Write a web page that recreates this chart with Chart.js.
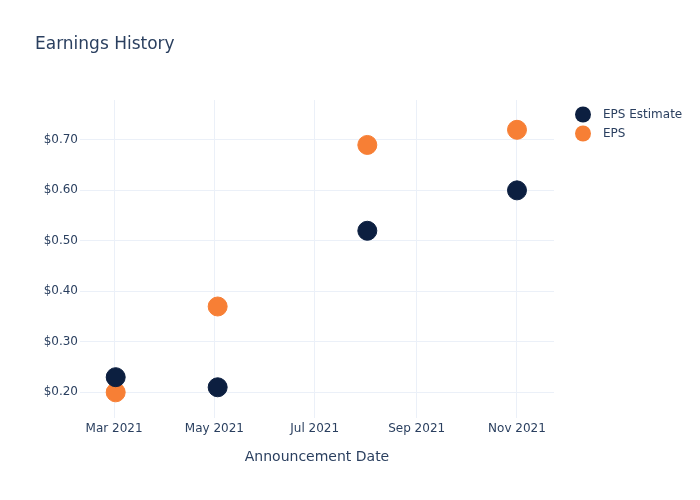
<!DOCTYPE html>
<html>
<head>
<meta charset="utf-8">
<script src="https://cdn.jsdelivr.net/npm/chart.js@4.4.0/dist/chart.umd.min.js"></script>
<style>
  html, body { margin: 0; padding: 0; background: #fff; }
  #wrap { width: 700px; height: 500px; }
</style>
</head>
<body>
<div id="wrap"><canvas id="eps"></canvas></div>
<script>
// announcement dates and values
var dates = ["2021-03-02", "2021-05-03", "2021-08-02", "2021-11-01"];
var estimate = [0.23, 0.21, 0.52, 0.60];
var actual = [0.20, 0.37, 0.69, 0.72];
var xTickDates = ["2021-03-01", "2021-05-01", "2021-07-01", "2021-09-01", "2021-11-01"];
var yTicks = [0.2, 0.3, 0.4, 0.5, 0.6, 0.7];

var months = ["Jan","Feb","Mar","Apr","May","Jun","Jul","Aug","Sep","Oct","Nov","Dec"];
var DAY = 86400000;
function toDay(s) { return Date.parse(s + "T00:00:00Z") / DAY; }
function dayLabel(d) {
  var dt = new Date(d * DAY);
  return months[dt.getUTCMonth()] + " " + dt.getUTCFullYear();
}
function pts(vals) {
  return dates.map(function (d, i) { return { x: toDay(d), y: vals[i] }; });
}

var FONT = "'DejaVu Sans', sans-serif";
var TEXT = "#2a3f5f";
var GRID = "#ebf0f8";

// title + legend drawn on the canvas (plotly-like placement)
var decor = {
  id: "decor",
  afterDraw: function (chart) {
    var c = chart.ctx;
    c.save();
    c.fillStyle = TEXT;
    c.font = "17px " + FONT;
    c.textBaseline = "middle";
    c.fillText("Earnings History", 35, 45);
    c.font = "12px " + FONT;
    chart.data.datasets.forEach(function (ds, i) {
      var y = 114.5 + i * 19;
      c.beginPath();
      c.arc(583, y, 8, 0, Math.PI * 2);
      c.fillStyle = ds.backgroundColor;
      c.fill();
      c.fillStyle = TEXT;
      c.fillText(ds.label, 603, y);
    });
    c.restore();
  }
};

var startDay = toDay("2021-03-01");

new Chart(document.getElementById("eps"), {
  type: "scatter",
  data: {
    datasets: [
      {
        label: "EPS Estimate",
        data: pts(estimate),
        backgroundColor: "#0c1f40",
        borderColor: "#0c1f40",
        pointRadius: 9.5,
        pointHoverRadius: 9.5
      },
      {
        label: "EPS",
        data: pts(actual),
        backgroundColor: "#f77f35",
        borderColor: "#f77f35",
        pointRadius: 9.5,
        pointHoverRadius: 9.5
      }
    ]
  },
  options: {
    responsive: true,
    maintainAspectRatio: false,
    animation: false,
    layout: { padding: { top: 100, right: 146, left: 0, bottom: 34 } },
    plugins: {
      legend: { display: false },
      tooltip: { enabled: false }
    },
    scales: {
      x: {
        type: "linear",
        min: startDay - 20.7,
        max: startDay + 267.5,
        afterBuildTicks: function (axis) {
          axis.ticks = xTickDates.map(function (d) { return { value: toDay(d) }; });
        },
        ticks: {
          color: TEXT,
          font: { family: FONT, size: 12 },
          padding: 4,
          maxRotation: 0,
          callback: function (v) { return dayLabel(v); }
        },
        grid: { color: GRID, tickLength: 8, tickColor: GRID },
        border: { display: false },
        title: {
          display: true,
          text: "Announcement Date",
          color: TEXT,
          font: { family: FONT, size: 14 },
          padding: { top: 8, bottom: 0 }
        },
        afterFit: function (axis) { axis.height = 56; }
      },
      y: {
        min: 0.165,
        max: 0.779,
        afterBuildTicks: function (axis) {
          axis.ticks = yTicks.map(function (v) { return { value: v }; });
        },
        ticks: {
          color: TEXT,
          font: { family: FONT, size: 12 },
          padding: 2,
          callback: function (v) { return "$" + v.toFixed(2); }
        },
        grid: { color: GRID, drawTicks: false },
        border: { display: false },
        afterFit: function (axis) { axis.width = 80; }
      }
    }
  },
  plugins: [decor]
});
</script>
</body>
</html>
